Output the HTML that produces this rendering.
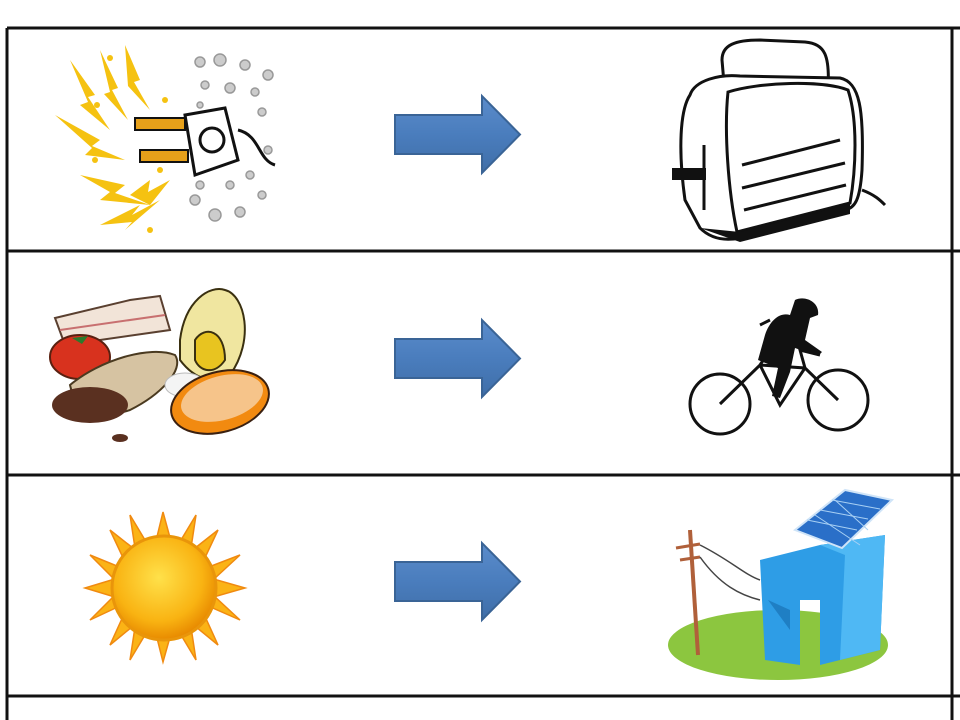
<!DOCTYPE html>
<html><head><meta charset="utf-8"><style>html,body{margin:0;padding:0;background:#fff}svg{display:block}</style></head>
<body>
<svg width="960" height="720" viewBox="0 0 960 720" xmlns="http://www.w3.org/2000/svg">
<defs>
<linearGradient id="ag" x1="0" y1="0" x2="0" y2="1"><stop offset="0" stop-color="#5b8ccb"/><stop offset="0.5" stop-color="#4a7dbd"/><stop offset="1" stop-color="#3f6ea8"/></linearGradient>
<radialGradient id="sg" cx="0.45" cy="0.4" r="0.6"><stop offset="0" stop-color="#ffe14a"/><stop offset="0.7" stop-color="#f9b312"/><stop offset="1" stop-color="#e88a00"/></radialGradient>
<g id="arrow"><path d="M395,19 H482 V0 L520,38.5 L482,77 V58 H395 Z" fill="url(#ag)" stroke="#3a6496" stroke-width="2"/></g>
</defs>
<g stroke="#111" stroke-width="3" fill="none">
<line x1="7" y1="28" x2="960" y2="28"/>
<line x1="7" y1="251" x2="960" y2="251"/>
<line x1="7" y1="475" x2="960" y2="475"/>
<line x1="7" y1="696" x2="960" y2="696"/>
<line x1="7" y1="28" x2="7" y2="720"/>
<line x1="952" y1="28" x2="952" y2="720"/>
</g>
<use href="#arrow" transform="translate(0,96)"/>
<use href="#arrow" transform="translate(0,320)"/>
<use href="#arrow" transform="translate(0,543)"/>

<g fill="#f5c211">
<path d="M70,60 L95,95 L88,97 L110,130 L80,105 L88,102 Z"/>
<path d="M100,50 L118,88 L112,90 L128,120 L104,94 L110,92 Z"/>
<path d="M125,45 L140,80 L134,82 L150,110 L128,86 Z"/>
<path d="M55,115 L100,140 L92,146 L125,160 L85,155 L92,148 Z"/>
<path d="M80,175 L125,185 L115,193 L150,205 L100,200 L110,192 Z"/>
<path d="M100,225 L140,205 L132,215 L160,200 L125,230 L132,222 Z"/>
<path d="M130,195 L150,180 L148,192 L170,180 L150,205 Z"/>
</g>
<g fill="#f5c211"><circle cx="110" cy="58" r="3"/><circle cx="97" cy="105" r="3"/><circle cx="95" cy="160" r="3"/><circle cx="150" cy="230" r="3"/><circle cx="160" cy="170" r="3"/><circle cx="165" cy="100" r="3"/></g>
<g fill="#ccc" stroke="#999" stroke-width="1.5">
<circle cx="200" cy="62" r="5"/><circle cx="220" cy="60" r="6"/><circle cx="245" cy="65" r="5"/><circle cx="268" cy="75" r="5"/><circle cx="205" cy="85" r="4"/><circle cx="230" cy="88" r="5"/><circle cx="255" cy="92" r="4"/><circle cx="200" cy="105" r="3"/><circle cx="262" cy="112" r="4"/><circle cx="250" cy="175" r="4"/><circle cx="230" cy="185" r="4"/><circle cx="262" cy="195" r="4"/><circle cx="195" cy="200" r="5"/><circle cx="215" cy="215" r="6"/><circle cx="240" cy="212" r="5"/><circle cx="200" cy="185" r="4"/><circle cx="225" cy="160" r="3"/><circle cx="268" cy="150" r="4"/>
</g>
<g stroke="#111" stroke-width="3" fill="#fff">
<path d="M185,115 L225,108 L238,160 L195,175 Z"/>
<circle cx="212" cy="140" r="12"/>
<path d="M238,130 C260,135 258,160 275,165" fill="none"/>
</g>
<g fill="#e6a01a" stroke="#111" stroke-width="2"><rect x="135" y="118" width="50" height="12"/><rect x="140" y="150" width="48" height="12"/></g>

<!-- toaster -->
<g stroke="#111" stroke-width="3" fill="#fff">
<path d="M725,95 L722,60 C722,45 735,40 760,40 L805,42 C825,44 830,55 828,90 Z"/>
<path d="M690,95 C695,80 720,74 740,76 L840,78 C860,82 864,110 862,170 C860,200 855,208 845,210 L740,238 C720,242 708,236 700,228 L685,200 C678,150 680,110 690,95 Z"/>
<path d="M728,92 C760,82 822,80 848,90 C858,120 856,170 850,203 L737,232 C728,190 724,130 728,92 Z"/>
<line x1="742" y1="165" x2="840" y2="140"/><line x1="742" y1="188" x2="845" y2="163"/><line x1="744" y1="210" x2="846" y2="185"/>
<path d="M862,190 C875,195 880,200 885,205" fill="none"/>
</g>
<rect x="672" y="168" width="34" height="12" fill="#111"/>
<line x1="704" y1="145" x2="704" y2="210" stroke="#111" stroke-width="3"/>
<path d="M700,228 L740,242 L850,214 L850,204 L740,232 Z" fill="#111"/>

<path d="M55,318 L130,300 L160,296 L170,330 L65,345 Z" fill="#f2e4d8" stroke="#5a4030" stroke-width="2"/>
<path d="M60,330 L165,315" stroke="#c87070" stroke-width="2"/>
<ellipse cx="80" cy="357" rx="30" ry="22" fill="#d8321e" stroke="#5a2010" stroke-width="2"/>
<path d="M72,338 L88,336 L82,344 Z" fill="#2c7a2c"/>
<path d="M180,340 C185,300 210,285 225,290 C245,295 255,340 230,375 C215,385 195,380 180,360 Z" fill="#f0e6a0" stroke="#3a3010" stroke-width="2"/>
<path d="M195,340 C205,325 225,330 225,360 C215,375 200,372 195,360 Z" fill="#e8c420" stroke="#3a3010" stroke-width="2"/>
<path d="M70,385 C100,360 150,345 175,355 C185,370 160,395 130,410 C100,420 75,410 70,385 Z" fill="#d6c3a2" stroke="#4a3a20" stroke-width="2"/>
<ellipse cx="90" cy="405" rx="38" ry="18" fill="#5a3020"/>
<ellipse cx="120" cy="438" rx="8" ry="4" fill="#5a3020"/>
<ellipse cx="185" cy="385" rx="20" ry="12" fill="#f4f4f4" stroke="#bbb"/>
<ellipse cx="220" cy="402" rx="50" ry="30" transform="rotate(-15 220 402)" fill="#f28a10" stroke="#3a2010" stroke-width="2"/>
<ellipse cx="222" cy="398" rx="42" ry="22" transform="rotate(-15 222 398)" fill="#f6c48a"/>

<g stroke="#111" stroke-width="3" fill="none">
<circle cx="720" cy="404" r="30"/><circle cx="838" cy="400" r="30"/>
<path d="M720,404 L760,365 L805,368 L838,400 M760,365 L780,405 L805,368 M770,350 L760,365 M805,368 L800,350 L820,355"/>
</g>
<path d="M795,300 C805,295 820,302 818,315 L810,318 L805,340 L822,352 L818,356 L795,348 L790,372 L780,398 L772,396 L778,368 L758,360 L765,335 C770,320 780,312 790,315 Z" fill="#111"/>
<path d="M770,320 L760,325" stroke="#111" stroke-width="3"/>

<g fill="#fbb315" stroke="#f08a10" stroke-width="1.5">
<path d="M163,512 L172,545 L155,545 Z"/><path d="M163,662 L172,630 L155,630 Z"/>
<path d="M85,588 L118,578 L118,598 Z"/><path d="M245,588 L210,578 L210,598 Z"/>
<path d="M110,530 L138,552 L125,562 Z"/><path d="M218,530 L190,552 L203,562 Z"/>
<path d="M110,645 L138,622 L125,612 Z"/><path d="M218,645 L190,622 L203,612 Z"/>
<path d="M130,515 L148,545 L135,548 Z"/><path d="M196,515 L178,545 L191,548 Z"/>
<path d="M130,660 L148,630 L135,627 Z"/><path d="M196,660 L178,630 L191,627 Z"/>
<path d="M90,555 L122,568 L115,580 Z"/><path d="M240,555 L206,568 L213,580 Z"/>
<path d="M90,620 L122,605 L115,595 Z"/><path d="M240,620 L206,605 L213,595 Z"/>
</g>
<circle cx="164" cy="588" r="52" fill="url(#sg)" stroke="#e9950a" stroke-width="3"/>

<ellipse cx="778" cy="645" rx="110" ry="35" fill="#8cc63f"/>
<path d="M690,530 L698,655" stroke="#b0603a" stroke-width="4"/>
<path d="M676,548 L700,544 M680,560 L700,557" stroke="#b0603a" stroke-width="3"/>
<path d="M700,545 C730,560 745,575 760,580 M700,557 C720,585 740,595 760,600" stroke="#444" stroke-width="1.5" fill="none"/>
<path d="M760,560 L820,545 L885,535 L880,650 L820,665 L820,600 L800,600 L800,665 L765,660 Z" fill="#2e9de6"/>
<path d="M820,545 L885,535 L880,650 L840,660 L845,555 Z" fill="#4fb8f4"/>
<path d="M795,530 L845,490 L892,500 L842,548 Z" fill="#2a6fc8" stroke="#cfe4f8" stroke-width="2"/>
<g stroke="#a8d0f4" stroke-width="1"><line x1="807" y1="520" x2="857" y2="530"/><line x1="820" y1="510" x2="868" y2="519"/><line x1="832" y1="500" x2="880" y2="509"/><line x1="815" y1="515" x2="860" y2="545"/><line x1="835" y1="500" x2="868" y2="530"/></g>
<path d="M768,600 L790,610 L790,630 Z" fill="#1f7fc4"/>
</svg>
</body></html>
